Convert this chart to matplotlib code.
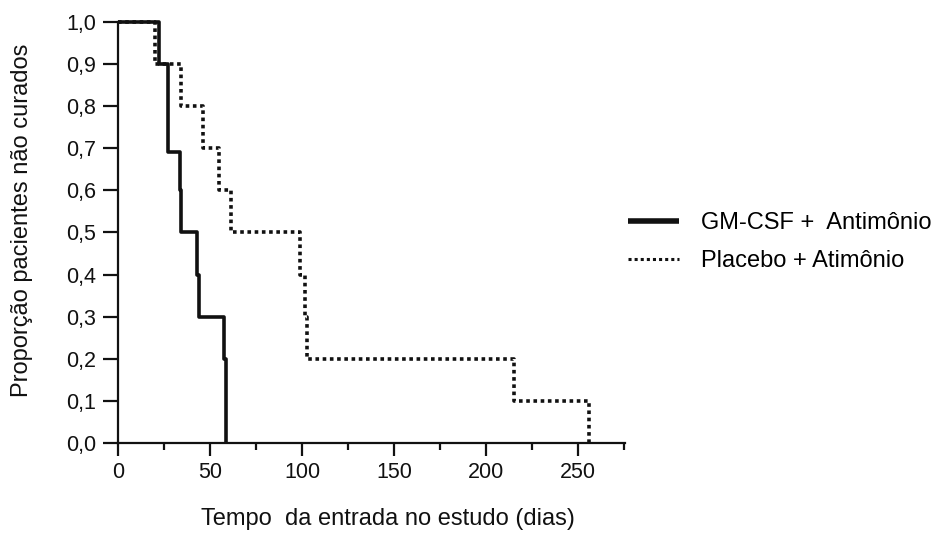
import matplotlib
matplotlib.use("Agg")
import matplotlib.pyplot as plt
from matplotlib.ticker import FuncFormatter, MultipleLocator

# ── data (step-down survival curves) ──────────────────────────────────────────
gm_time = [0, 22.4, 27.2, 33.4, 34.4, 42.7, 44.1, 57.6, 58.7]
gm_surv = [1.0, 0.9, 0.69, 0.6, 0.5, 0.4, 0.3, 0.2, 0.0]

pl_time = [0, 20.1, 34.2, 46.4, 55.0, 61.5, 99.0, 101.6, 102.9, 214.9, 256.0]
pl_surv = [1.0, 0.9, 0.8, 0.7, 0.6, 0.5, 0.4, 0.3, 0.2, 0.1, 0.0]

labels = ["GM-CSF +  Antimônio", "Placebo + Atimônio"]

plt.rcParams["font.family"] = ["Liberation Sans", "DejaVu Sans"]
INK = "#111111"

fig = plt.figure(figsize=(9.39, 5.43), dpi=100)
ax = fig.add_axes([0.1257, 0.1842, 0.540, 0.7753])

l1, = ax.step(gm_time, gm_surv, where="post", color=INK, lw=2.6,
              solid_capstyle="butt", clip_on=False)
l2, = ax.step(pl_time, pl_surv, where="post", color=INK, lw=2.6,
              ls=(0, (1.0, 1.0)), clip_on=False)

ax.set_xlim(0, 275.5)
ax.set_ylim(0, 1.0)
ax.xaxis.set_major_locator(MultipleLocator(50))
ax.xaxis.set_minor_locator(MultipleLocator(25))
ax.yaxis.set_major_locator(MultipleLocator(0.1))
ax.yaxis.set_major_formatter(FuncFormatter(lambda v, p: f"{v:.1f}".replace(".", ",")))

for s in ("top", "right"):
    ax.spines[s].set_visible(False)
for s in ("left", "bottom"):
    ax.spines[s].set_linewidth(1.6)
    ax.spines[s].set_color(INK)

ax.tick_params(axis="both", which="major", width=1.6, color=INK,
               labelsize=15.5, labelcolor=INK)
ax.tick_params(axis="y", which="major", length=11, pad=5)
ax.tick_params(axis="x", which="major", length=9, pad=5)
ax.tick_params(axis="x", which="minor", length=5, width=1.6, color=INK)

ax.set_ylabel("Proporção pacientes não curados", fontsize=17, color=INK)
ax.yaxis.set_label_coords(-0.168, 0.53)
ax.set_xlabel("Tempo  da entrada no estudo (dias)", fontsize=17, color=INK)
ax.xaxis.set_label_coords(0.532, -0.18)
ax.xaxis.label.set_va("center")

leg = fig.legend([l1, l2], labels, loc="center left", bbox_to_anchor=(0.669, 0.554),
                 frameon=False, fontsize=17, handlelength=2.15, handletextpad=0.92,
                 labelspacing=0.7, borderpad=0, borderaxespad=0)
hl = leg.get_lines()
hl[0].set_linewidth(4)
hl[1].set_linewidth(2.2)

fig.savefig("out.png", dpi=100)
